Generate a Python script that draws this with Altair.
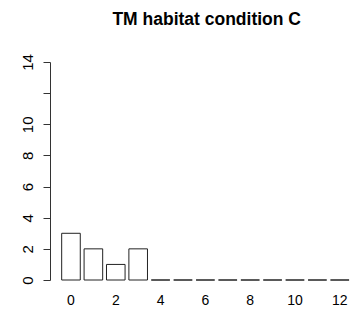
import altair as alt
import pandas as pd

categories = list(range(13))
counts = [3, 2, 1, 2, 0, 0, 0, 0, 0, 0, 0, 0, 0]
x_tick_values = [0, 2, 4, 6, 8, 10, 12]
y_tick_values = [0, 2, 4, 6, 8, 10, 12, 14]
title_text = "TM habitat condition C"

df = pd.DataFrame({"cat": categories, "count": counts})

W = 302
H = 218
FONT = "Liberation Sans"

chart = alt.Chart(df).mark_bar(
    fill="white", stroke="#222222", strokeWidth=1
).encode(
    x=alt.X(
        "cat:O",
        sort=categories,
        scale=alt.Scale(paddingInner=0.17, paddingOuter=0.326, align=0.8),
        axis=alt.Axis(
            values=x_tick_values, title=None, domain=False, ticks=False,
            labelAngle=0, labelFont=FONT, labelFontSize=14, labelColor="black",
            labelPadding=13, labelBaseline="top", labelAlign="center",
        ),
    ),
    y=alt.Y(
        "count:Q",
        scale=alt.Scale(domain=[0, 14], nice=False, zero=True),
        axis=alt.Axis(
            values=y_tick_values, title=None, grid=False,
            labelExpr="datum.value == 12 ? '' : datum.label",
            labelAngle=270, labelAlign="center", labelBaseline="bottom",
            labelFont=FONT, labelFontSize=15, labelColor="black",
            labelPadding=8, tickSize=7, tickColor="#333333",
            domainColor="#333333",
        ),
    ),
).properties(
    width=W,
    height=H,
    title=alt.TitleParams(
        title_text, font=FONT, fontSize=17.5, fontWeight="bold", color="black",
        anchor="middle", dx=206.7 - (50 + W / 2), offset=25,
    ),
    autosize=alt.AutoSizeParams(type="none"),
    padding={"left": 42, "top": 54, "right": 0, "bottom": 34},
).configure_view(stroke=None)

chart.save("out.html", embed_options={"renderer": "svg", "actions": False})
